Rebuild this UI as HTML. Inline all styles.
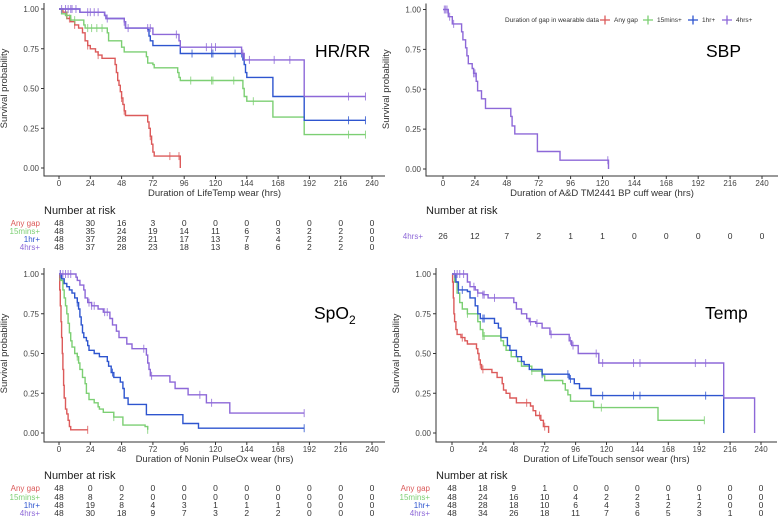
<!DOCTYPE html>
<html><head><meta charset="utf-8">
<style>
html,body{margin:0;padding:0;background:#fff;}
svg{display:block;font-family:"Liberation Sans",sans-serif;}
</style></head>
<body>
<svg id="fig" width="778" height="517" viewBox="0 0 778 517"></svg>
<script>
// ---- data ----
const xTicks=[0,24,48,72,96,120,144,168,192,216,240];
const yTicks=[0,0.25,0.5,0.75,1];
const yTickLabels=["0.00","0.25","0.50","0.75","1.00"];
const groupNames=["Any gap","15mins+","1hr+","4hrs+"];
const groupColors=["#dc5a5a","#7ccf73","#2e55cf","#8d68d8"];

// HR/RR
const hrAnyT=[3,6,9,12,15,18,20,22,24,28,30,33,43,44,45,46,47,48,49,50,51,68,69,70,71,72,73,93,93];
const hrAnyS=[0.98,0.94,0.92,0.9,0.88,0.85,0.8,0.77,0.75,0.73,0.71,0.69,0.65,0.6,0.55,0.52,0.48,0.44,0.4,0.36,0.33,0.29,0.25,0.2,0.15,0.1,0.075,0,0];
const hrAnyC=[5,8,12,22,30,48,50,70,85,92];
const hr15T=[2,5,9,19,20,37,38,48,50,67,68,72,73,91,92,93,141,142,144,164,188,235];
const hr15S=[0.97,0.96,0.93,0.9,0.88,0.85,0.8,0.76,0.73,0.7,0.66,0.65,0.63,0.6,0.57,0.55,0.5,0.45,0.42,0.32,0.21,0.21];
const hr15C=[6,12,22,25,29,33,101,117,118,134,149,222,235];
const hr1T=[16,35,36,50,51,68,69,70,72,93,141,142,143,144,164,188,235];
const hr1S=[0.98,0.96,0.94,0.92,0.88,0.87,0.83,0.8,0.77,0.72,0.68,0.65,0.6,0.57,0.45,0.3,0.3];
const hr1C=[102,117,118,135,140,222,235];
const hr4T=[16,35,36,50,51,72,92,93,140,142,188,235];
const hr4S=[0.98,0.96,0.94,0.92,0.88,0.84,0.8,0.76,0.72,0.68,0.45,0.45];
const hr4C=[2,5,7,9,10,13,22,24,27,30,37,50,53,68,70,90,113,117,120,141,146,165,177,222,235];
const hrRisk=[[48,30,16,3,0,0,0,0,0,0,0],[48,35,24,19,14,11,6,3,2,2,0],[48,37,28,21,17,13,7,4,2,2,0],[48,37,28,23,18,13,8,6,2,2,0]];

// SBP
const sbpT=[4,7,14,15,17,18,19,22,23,25,26,29,32,44,51,52,54,71,88,124.5,124.5];
const sbpS=[0.955,0.91,0.86,0.81,0.76,0.71,0.66,0.63,0.6,0.55,0.49,0.44,0.38,0.38,0.33,0.27,0.22,0.11,0.055,0,0];
const sbpC=[1,2,3,5,8,23,24,124];
const sbpRisk=[[26,12,7,2,1,1,0,0,0,0,0]];

// SpO2
const spAnyT=[0.5,1,1.5,2,2.5,3,3.5,4,5,6,7,8,9,22];
const spAnyS=[0.9,0.8,0.7,0.6,0.5,0.4,0.3,0.22,0.15,0.12,0.08,0.04,0.02,0.02];
const spAnyC=[22];
const sp15T=[1,3,4,5,6,7,8,9,10,12,14,15,16,18,20,21,23,27,30,31,34,42,49,66,68];
const sp15S=[0.96,0.9,0.85,0.8,0.75,0.69,0.63,0.58,0.54,0.5,0.48,0.44,0.4,0.35,0.31,0.25,0.21,0.19,0.165,0.15,0.13,0.1,0.05,0.04,0.02];
const sp15C=[14,42,68];
const sp1T=[2,4,6,8,10,12,14,15,16,17,18,19,21,22,23,27,31,37,38,40,42,47,49,50,53,67,95,107,188];
const sp1S=[0.97,0.94,0.92,0.9,0.88,0.85,0.82,0.78,0.73,0.68,0.63,0.6,0.58,0.55,0.52,0.5,0.48,0.45,0.42,0.38,0.35,0.32,0.28,0.22,0.18,0.115,0.06,0.03,0.03];
const sp1C=[1,14,41,188];
const sp4T=[13,14,16,19,20,22,25,30,34,39,41,44,46,52,56,67,68,69,70,85,89,99,113,131,188];
const sp4S=[0.98,0.96,0.93,0.9,0.85,0.82,0.8,0.78,0.76,0.72,0.68,0.64,0.6,0.56,0.53,0.49,0.44,0.4,0.36,0.32,0.28,0.24,0.19,0.125,0.125];
const sp4C=[1,3,5,7,9,23,25,27,35,37,65,71,108,117,188];
const spRisk=[[48,0,0,0,0,0,0,0,0,0,0],[48,8,2,0,0,0,0,0,0,0,0],[48,19,8,4,3,1,1,1,0,0,0],[48,30,18,9,7,3,2,2,0,0,0]];

// Temp
const tpAnyT=[0.5,1,1.5,2,3,4,7,10,12,19,20,21,22,23,31,35,39,40,42,45,50,61,63,65,69,71,75,75];
const tpAnyS=[0.95,0.85,0.75,0.7,0.65,0.62,0.6,0.58,0.56,0.53,0.5,0.46,0.43,0.4,0.38,0.35,0.31,0.27,0.25,0.22,0.19,0.17,0.14,0.11,0.08,0.04,0,0];
const tpAnyC=[8,22,24,58,68,72];
const tp15T=[2,4,6,8,12,20,22,24,38,40,42,46,51,54,62,70,72,86,88,90,92,110,160,196];
const tp15S=[0.95,0.88,0.82,0.78,0.75,0.7,0.65,0.61,0.58,0.55,0.52,0.48,0.45,0.42,0.39,0.36,0.33,0.31,0.27,0.24,0.2,0.16,0.08,0.08];
const tp15C=[12,24,25,62,116,196];
const tp1T=[3,5,12,14,18,20,22,33,36,38,43,45,50,54,56,60,70,91,95,99,108,211,211];
const tp1S=[0.95,0.9,0.89,0.85,0.8,0.75,0.72,0.69,0.66,0.6,0.55,0.52,0.48,0.45,0.43,0.4,0.37,0.34,0.31,0.28,0.235,0,0];
const tp1C=[5,8,24,25,70,90,92,117,141,146,197];
const tp4T=[12,14,18,20,24,28,31,48,50,54,58,60,65,70,76,91,93,98,114,211,235,235];
const tp4S=[0.95,0.92,0.9,0.88,0.87,0.85,0.85,0.82,0.78,0.75,0.72,0.7,0.69,0.66,0.62,0.58,0.55,0.5,0.44,0.22,0,0];
const tp4C=[2,4,6,9,17,20,24,25,33,61,66,77,92,94,112,117,141,146,189,197];
const tpRisk=[[48,18,9,1,0,0,0,0,0,0,0],[48,24,16,10,4,2,2,1,1,0,0],[48,28,18,10,6,4,3,2,2,0,0],[48,34,26,18,11,7,6,5,3,1,0]];

// ---- rendering ----
const NS="http://www.w3.org/2000/svg";
const svg=document.getElementById('fig');
function mk(tag,attrs,parent,text){const e=document.createElementNS(NS,tag);for(const k in attrs)e.setAttribute(k,attrs[k]);if(text!==undefined)e.textContent=text;(parent||svg).appendChild(e);return e;}

const panels=[
 {key:'hr-rr',title:'HR/RR',sub:null,xlabel:'Duration of LifeTemp wear (hrs)',x0:59,x1:372,yTop:9,yBot:168,left:44,bottom:176,right:385,tx:315,ty:57,
  curves:[[hrAnyT,hrAnyS,hrAnyC,0],[hr15T,hr15S,hr15C,1],[hr1T,hr1S,hr1C,2],[hr4T,hr4S,hr4C,3]],risk:hrRisk,riskGroups:[0,1,2,3],riskY:210,rows:[223,231,239,247],labX:40},
 {key:'sbp',title:'SBP',sub:null,xlabel:'Duration of A&D TM2441 BP cuff wear (hrs)',x0:443,x1:762,yTop:9.5,yBot:169,left:426,bottom:176,right:778,tx:706,ty:57,
  curves:[[sbpT,sbpS,sbpC,3]],risk:sbpRisk,riskGroups:[3],riskY:210,rows:[236],labX:423},
 {key:'spo2',title:'SpO',sub:'2',xlabel:'Duration of Nonin PulseOx wear (hrs)',x0:59,x1:372,yTop:274,yBot:433,left:44,bottom:442,right:385,tx:314,ty:319,
  curves:[[spAnyT,spAnyS,spAnyC,0],[sp15T,sp15S,sp15C,1],[sp1T,sp1S,sp1C,2],[sp4T,sp4S,sp4C,3]],risk:spRisk,riskGroups:[0,1,2,3],riskY:475,rows:[488,497,505,513],labX:40},
 {key:'temp',title:'Temp',sub:null,xlabel:'Duration of LifeTouch sensor wear (hrs)',x0:452,x1:761,yTop:274,yBot:433,left:436,bottom:442,right:777,tx:705,ty:319,
  curves:[[tpAnyT,tpAnyS,tpAnyC,0],[tp15T,tp15S,tp15C,1],[tp1T,tp1S,tp1C,2],[tp4T,tp4S,tp4C,3]],risk:tpRisk,riskGroups:[0,1,2,3],riskY:475,rows:[488,497,505,513],labX:430}
];

function survAt(T,S,t){let s=1;for(let i=0;i<T.length;i++){if(T[i]<=t)s=S[i];else break;}return s;}

panels.forEach(p=>{
  const g=mk('g',{});
  
  
  const X=t=>p.x0+(p.x1-p.x0)*t/240;
  const Y=s=>p.yBot-(p.yBot-p.yTop)*s;
  const ax=mk('path',{d:`M${p.left} ${p.yTop-6} V${p.bottom} H${p.right}`,fill:'none',stroke:'#333',"stroke-width":1},g);
  
  
  yTicks.forEach((v,i)=>{
    mk('line',{x1:p.left-3,x2:p.left,y1:Y(v),y2:Y(v),stroke:'#333'},g);
    const t=mk('text',{x:p.left-5,y:Y(v)+3,"text-anchor":'end',"font-size":8,fill:'#444'},g,yTickLabels[i]);
    
    
  });
  xTicks.forEach(v=>{
    mk('line',{x1:X(v),x2:X(v),y1:p.bottom,y2:p.bottom+3,stroke:'#333'},g);
    const t=mk('text',{x:X(v),y:p.bottom+10,"text-anchor":'middle',"font-size":8,fill:'#444'},g,String(v));
    
    
  });
  const xl=mk('text',{x:(p.left+p.right)/2,y:p.bottom+20,"text-anchor":'middle',"font-size":9.5,fill:'#333'},g,p.xlabel);
  
  
  const yc=(p.yTop+p.yBot)/2;
  const lx=p.left-37;
  const yl=mk('text',{x:lx,y:yc,"text-anchor":'middle',"font-size":9.5,fill:'#333',transform:`rotate(-90 ${lx} ${yc})`},g,'Survival probability');
  
  
  p.curves.forEach(c=>{
    const [T,S,C,gi]=c;
    let d=`M${X(0)} ${Y(1)}`;
    for(let i=0;i<T.length;i++){d+=` H${X(T[i]).toFixed(1)} V${Y(S[i]).toFixed(1)}`;}
    const pa=mk('path',{d:d,fill:'none',stroke:groupColors[gi],"stroke-width":1.4},g);
    
    
    C.forEach(t=>{
      const y=Y(survAt(T,S,t));
      const m=mk('line',{x1:X(t),x2:X(t),y1:y-4,y2:y+4,stroke:groupColors[gi],"stroke-width":1,opacity:0.8},g);
      
      
    });
  });
  const tt=mk('text',{x:p.tx,y:p.ty,"font-size":17.5,fill:'#000'},g,p.title);
  
  
  if(p.sub){mk('tspan',{"font-size":12,dy:5},tt,p.sub);}
  const nr=mk('text',{x:p.left,y:p.riskY+4,"font-size":11,fill:'#222'},g,'Number at risk');
  
  
  p.risk.forEach((row,ri)=>{
    const gi=p.riskGroups[ri];const yy=p.rows[ri]+3;
    const lb=mk('text',{x:p.labX,y:yy,"text-anchor":'end',"font-size":8,fill:groupColors[gi]},g,groupNames[gi]);
    
    
    row.forEach((n,k)=>{
      const nt=mk('text',{x:X(xTicks[k]),y:yy,"text-anchor":'middle',"font-size":8.5,fill:'#333'},g,String(n));
      
      
    });
  });
});

const lg=mk('g',{});


mk('text',{x:505,y:22,"font-size":6.5,fill:'#333'},lg,'Duration of gap in wearable data');
const legX=[600,643,688,722];
groupNames.forEach((n,i)=>{
  const x=legX[i];
  const e=mk('g',{},lg);
  
  
  mk('line',{x1:x,x2:x+10,y1:20,y2:20,stroke:groupColors[i],"stroke-width":1.3},e);
  mk('line',{x1:x+5,x2:x+5,y1:15.5,y2:24.5,stroke:groupColors[i],"stroke-width":1.3},e);
  mk('text',{x:x+14,y:22,"font-size":6.5,fill:'#333'},e,n);
});
</script>
</body></html>
